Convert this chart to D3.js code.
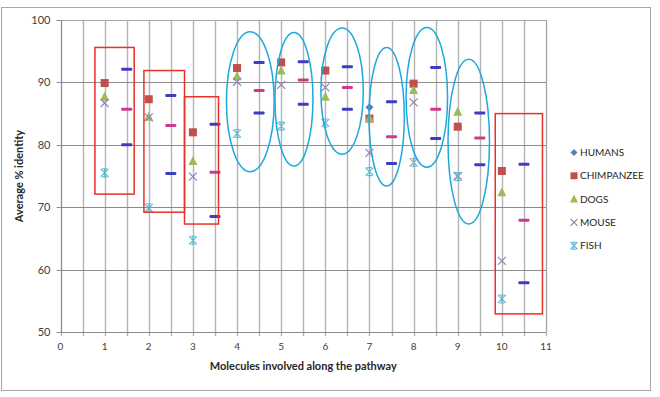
<!DOCTYPE html>
<html>
<head>
<meta charset="utf-8">
<script src="https://cdn.jsdelivr.net/npm/d3@7"></script>
<style>
    body { margin: 0; background: #fff; }
    svg { display: block; font-family: Lato, "Open Sans", sans-serif; }
</style>
</head>
<body>
<div id="chartContainer"></div>
<script>
// molecules along the pathway (x positions)
const molecules = [1, 2, 3, 4, 5, 6, 7, 8, 9, 10];

const humans     = [89.9, 87.3, 82.0, 92.3, 93.2, 91.9, 86.0, 89.8, 82.9, 75.8];
const chimpanzee = [89.9, 87.3, 82.0, 92.3, 93.2, 91.9, 84.2, 89.8, 82.9, 75.8];
const dogs       = [87.7, 84.5, 77.4, 91.0, 91.9, 87.7, 84.3, 88.8, 85.3, 72.4];
const mouse      = [86.7, 84.4, 74.9, 90.1, 89.6, 89.2, 78.7, 86.8, 75.0, 61.4];
const fish       = [75.5, 69.9, 64.7, 81.8, 83.0, 83.5, 75.7, 77.2, 74.9, 55.3];

// the dash markers sitting half way between molecules (no legend entry)
const dashHigh = [92.1, 87.9, 83.3, 93.2, 93.3, 92.5, 86.9, 92.4, 85.1, 76.9];
const dashMid  = [85.7, 83.1, 75.6, 88.7, 90.4, 89.2, 81.3, 85.7, 81.1, 67.9];
const dashLow  = [80.0, 75.4, 68.5, 85.1, 86.5, 85.7, 77.0, 81.0, 76.8, 57.9];

const xTicks = [0, 1, 2, 3, 4, 5, 6, 7, 8, 9, 10, 11];
const yTicks = [50, 60, 70, 80, 90, 100];

// annotation shapes in data units: [x0, x1, yLow, yHigh]
const boxes = [
    [0.78, 1.67, 72.1, 95.6],
    [1.89, 2.81, 69.2, 91.9],
    [2.81, 3.58, 67.3, 87.7],
    [9.85, 10.92, 52.9, 85.0]
];
// ellipses in data units: [cx, cy, rx, ry]
const ellipses = [
    [4.30, 86.9, 0.54, 11.2],
    [5.29, 87.3, 0.43, 10.7],
    [6.38, 88.6, 0.48, 10.1],
    [7.39, 84.5, 0.40, 11.1],
    [8.30, 87.6, 0.47, 11.2],
    [9.25, 80.5, 0.47, 13.2]
];

const series = [
    { name: "HUMANS", values: humans, color: "#4F81BD", shape: "diamond" },
    { name: "CHIMPANZEE", values: chimpanzee, color: "#C0504D", shape: "square" },
    { name: "DOGS", values: dogs, color: "#9BBB59", shape: "triangle" },
    { name: "MOUSE", values: mouse, color: "#9585BC", shape: "cross" },
    { name: "FISH", values: fish, color: "#5BB8D0", shape: "star" }
];

const width = 660, height = 397;
const plot = { left: 60.5, right: 546, top: 20, bottom: 332 };

const svg = d3.select("#chartContainer")
              .append("svg")
              .attr("width", width)
              .attr("height", height);

// outer chart border
svg.append("rect")
   .attr("x", 1.5).attr("y", 7.5)
   .attr("width", 649).attr("height", 383)
   .attr("fill", "#fff")
   .attr("stroke", "#a6a6a6");

const x = d3.scaleLinear().domain([0, 11]).range([plot.left, plot.right]);
const y = d3.scaleLinear().domain([50, 100]).range([plot.bottom, plot.top]);

// vertical gridlines every 0.5
const halfSteps = d3.range(0, 11.01, 0.5);
svg.append("g")
   .selectAll("line")
   .data(halfSteps)
   .enter().append("line")
   .attr("x1", d => Math.round(x(d)) + 0.5)
   .attr("x2", d => Math.round(x(d)) + 0.5)
   .attr("y1", plot.top)
   .attr("y2", plot.bottom + 4)
   .attr("stroke", "#b4b4b4")
   .attr("stroke-width", 1.4);

// horizontal gridlines
svg.append("g")
   .selectAll("line")
   .data(yTicks)
   .enter().append("line")
   .attr("x1", plot.left - 4)
   .attr("x2", plot.right)
   .attr("y1", d => Math.round(y(d)) + 0.5)
   .attr("y2", d => Math.round(y(d)) + 0.5)
   .attr("stroke", "#8c8c8c")
   .attr("stroke-width", 1);

// y axis line
svg.append("line")
   .attr("x1", Math.round(plot.left) + 0.5).attr("x2", Math.round(plot.left) + 0.5)
   .attr("y1", plot.top).attr("y2", plot.bottom)
   .attr("stroke", "#8c8c8c");

// tick labels
svg.append("g")
   .selectAll("text")
   .data(yTicks)
   .enter().append("text")
   .attr("x", plot.left - 10)
   .attr("y", d => y(d) + 4)
   .attr("text-anchor", "end")
   .attr("font-size", 11)
   .attr("fill", "#404040")
   .text(d => d);

svg.append("g")
   .selectAll("text")
   .data(xTicks)
   .enter().append("text")
   .attr("x", d => x(d))
   .attr("y", plot.bottom + 18)
   .attr("text-anchor", "middle")
   .attr("font-size", 10)
   .attr("fill", "#404040")
   .text(d => d);

// axis titles
svg.append("text")
   .attr("x", (plot.left + plot.right) / 2)
   .attr("y", 370)
   .attr("text-anchor", "middle")
   .attr("font-size", 11)
   .attr("font-weight", "bold")
   .attr("fill", "#262626")
   .text("Molecules involved along the pathway");

svg.append("text")
   .attr("transform", `translate(23,${(plot.top + plot.bottom) / 2}) rotate(-90)`)
   .attr("text-anchor", "middle")
   .attr("font-size", 11)
   .attr("font-weight", "bold")
   .attr("fill", "#262626")
   .text("Average % identity");

function drawMarker(g, shape, color, s) {
    if (shape === "diamond") {
        g.append("path").attr("d", `M0,${-s}L${s},0L0,${s}L${-s},0Z`).attr("fill", color);
    } else if (shape === "square") {
        g.append("rect").attr("x", -s).attr("y", -s).attr("width", 2 * s).attr("height", 2 * s)
         .attr("fill", color);
    } else if (shape === "triangle") {
        g.append("path").attr("d", `M0,${-s - 1}L${s + 0.5},${s}L${-s - 0.5},${s}Z`).attr("fill", color);
    } else if (shape === "cross") {
        g.append("path").attr("d", `M${-s},${-s}L${s},${s}M${s},${-s}L${-s},${s}`)
         .attr("stroke", color).attr("stroke-width", 1.3);
    } else if (shape === "star") {
        g.append("path").attr("d", `M${-s},${-s}L${s},${s}M${s},${-s}L${-s},${s}M0,${-s}L0,${s}M-2.5,${-s}L2.5,${-s}M-2.5,${s}L2.5,${s}`)
         .attr("stroke", color).attr("stroke-width", 1.1);
    }
}

// dash series between molecules
const dashSeries = [
    { values: dashHigh, color: "#3d3dc4" },
    { values: dashMid, color: "#cc3a8e" },
    { values: dashLow, color: "#3d3dc4" }
];
dashSeries.forEach(ds => {
    svg.append("g")
       .selectAll("rect")
       .data(molecules)
       .enter().append("rect")
       .attr("x", d => x(d + 0.5) - 5.5)
       .attr("y", (d, i) => y(ds.values[i]) - 1.5)
       .attr("width", 11)
       .attr("height", 3)
       .attr("rx", 1)
       .attr("fill", ds.color);
});

// species series
series.forEach(s => {
    molecules.forEach((m, i) => {
        const g = svg.append("g")
                     .attr("transform", `translate(${x(m)},${y(s.values[i])})`);
        drawMarker(g, s.shape, s.color, 4);
    });
});

// annotation boxes and ellipses
svg.append("g")
   .selectAll("rect")
   .data(boxes)
   .enter().append("rect")
   .attr("x", d => x(d[0]))
   .attr("y", d => y(d[3]))
   .attr("width", d => x(d[1]) - x(d[0]))
   .attr("height", d => y(d[2]) - y(d[3]))
   .attr("fill", "none")
   .attr("stroke", "#e8302c")
   .attr("stroke-width", 1.5);

svg.append("g")
   .selectAll("ellipse")
   .data(ellipses)
   .enter().append("ellipse")
   .attr("cx", d => x(d[0]))
   .attr("cy", d => y(d[1]))
   .attr("rx", d => x(d[2]) - x(0))
   .attr("ry", d => y(50) - y(50 + d[3]))
   .attr("fill", "none")
   .attr("stroke", "#1fa8de")
   .attr("stroke-width", 1.5);

// plot area border on top and right
svg.append("path")
   .attr("d", `M${Math.round(plot.left) + 0.5},${plot.top + 0.5}H${Math.round(plot.right) + 0.5}V${plot.bottom}`)
   .attr("fill", "none")
   .attr("stroke", "#a6a6a6");

// legend
const legend = svg.append("g");
series.forEach((s, i) => {
    const row = legend.append("g")
                      .attr("transform", `translate(574,${152.5 + i * 23.3})`);
    drawMarker(row.append("g"), s.shape, s.color, 3.5);
    row.append("text")
       .attr("x", 6)
       .attr("y", 3.5)
       .attr("font-size", 10)
       .attr("fill", "#262626")
       .text(s.name);
});
</script>
</body>
</html>
